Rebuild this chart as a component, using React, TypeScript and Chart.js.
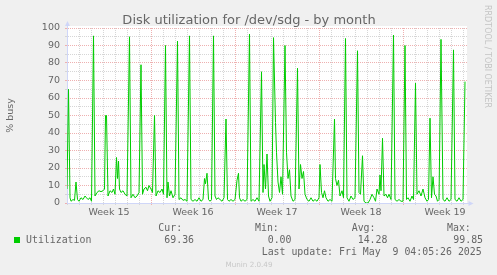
import React, { useEffect, useRef } from 'react';
import { Chart, registerables } from 'chart.js';

Chart.register(...registerables);

// ---- data (x in hours since the start of the graph window, 2h per pixel) ----
const hours = [
  0, 3, 6, 8, 12, 15, 18, 21, 24, 28, 32, 36,
  39, 42, 46, 49, 53, 56, 60, 64, 68, 72, 75, 77,
  79, 82, 86, 90, 93, 96, 99, 101, 103, 105, 108, 112,
  116, 120, 125, 128, 132, 136, 140, 144, 148, 151, 154, 158,
  161, 164, 168, 171, 175, 178, 182, 186, 190, 193, 197, 200,
  202, 205, 208, 212, 216, 221, 224, 228, 232, 236, 240, 245,
  248, 252, 256, 260, 264, 268, 272, 275, 277, 280, 283, 286,
  289, 293, 296, 299, 302, 306, 310, 314, 318, 321, 324, 328,
  332, 336, 340, 343, 345, 348, 352, 356, 360, 365, 368, 372,
  376, 380, 384, 389, 392, 394, 397, 400, 403, 406, 410, 413,
  417, 419, 422, 425, 428, 431, 436, 439, 442, 445, 448, 452,
  456, 461, 464, 467, 470, 473, 476, 480, 484, 488, 492, 496,
  500, 504, 506, 509, 512, 515, 518, 522, 526, 530, 535, 537,
  540, 543, 546, 550, 553, 557, 560, 564, 568, 572, 576, 581,
  584, 587, 591, 594, 598, 602, 606, 610, 614, 617, 620, 624,
  626, 628, 631, 634, 638, 641, 644, 648, 653, 656, 660, 664,
  668, 672, 676, 679, 682, 686, 690, 693, 697, 700, 704, 708,
  712, 716, 720, 723, 726, 729, 732, 735, 738, 741, 744, 748,
  752, 756, 760, 764, 768, 773, 776, 780, 784, 788, 792, 796,
];

const busy = [
  8, 65, 3, 1, 2, 1.5, 12, 2, 1, 3, 2, 4,
  3, 2, 3, 1, 95.5, 4, 6, 7, 6.5, 7, 8, 50,
  50, 4, 7, 6, 8, 5, 26, 14, 24, 8, 6, 7,
  5, 4, 95, 3, 5, 3, 4, 6, 79, 5, 8, 9,
  7, 10, 8, 6, 50, 4, 7, 6, 8, 5, 90, 3,
  12, 4, 7, 3, 5, 92.5, 2, 3, 1.5, 2, 1, 95.5,
  2, 1, 2, 1, 3, 1, 2, 14, 11, 17, 2, 1,
  2, 95.5, 4, 2, 3, 2, 1, 3, 48, 2, 1, 2,
  1, 2, 13, 17, 3, 1, 2, 1, 2, 96.5, 1, 2,
  1, 3, 1, 75, 6, 22, 8, 28, 4, 1, 3, 94.5,
  46, 29, 12, 6, 15, 5, 90, 29, 14, 19, 4, 1,
  2, 77, 8, 22, 14, 18, 5, 2, 1, 3, 1, 2,
  1, 3, 22, 6, 3, 7, 3, 1, 2, 1, 48, 14,
  10, 13, 4, 7, 3, 94, 3, 1, 4, 2, 3, 87,
  6, 5, 27, 1, 0, 0, 2, 5, 3, 1, 8, 5,
  16, 7, 37, 4, 5, 3, 5, 2, 96, 2, 1, 2,
  1, 1, 90, 2, 3, 1, 4, 2, 68.5, 5, 7, 4,
  8, 3, 1, 2, 48.5, 3, 15, 5, 4, 1, 2, 93.5,
  2, 1, 3, 1, 2, 87.5, 2, 1, 3, 1, 2, 69.36,
];

const weekLabels = ['Week 15', 'Week 16', 'Week 17', 'Week 18', 'Week 19'];
const hoursPerDay = 24;
const hoursPerWeek = 168;
const firstWeekLabelAt = 84;
const windowHours = 800;

const titleText = 'Disk utilization for /dev/sdg - by month';
const yAxisTitle = '% busy';
const seriesName = 'Utilization';
const legendHeaders = ['Cur:', 'Min:', 'Avg:', 'Max:'];
const legendValues = ['69.36', '0.00', '14.28', '99.85'];
const lastUpdate = 'Last update: Fri May  9 04:05:26 2025';
const watermark = 'Munin 2.0.49';
const credit = 'RRDTOOL / TOBI OETIKER';

// ---- styles ----
const FONT = '#666666';
const AXIS = '#CFD6F8';
const MAJOR = '#eeb0b0';
const MINOR = '#d6d6d6';
const NONE = 'rgba(0,0,0,0)';
const LINE = '#00cc00';

const decor = {
  id: 'decor',
  beforeDraw(chart: any) {
    const { ctx, chartArea: a } = chart;
    ctx.save();
    ctx.fillStyle = '#f0f0f0';
    ctx.fillRect(0, 0, chart.width, chart.height);
    ctx.fillStyle = '#ffffff';
    ctx.fillRect(a.left, a.top - 2, a.right - a.left, a.bottom - a.top + 2);
    ctx.restore();
  },
  afterDraw(chart: any) {
    const { ctx, chartArea: a } = chart;
    ctx.save();
    // axis arrows
    ctx.strokeStyle = AXIS;
    ctx.fillStyle = AXIS;
    ctx.lineWidth = 1;
    ctx.beginPath();
    ctx.moveTo(a.left + 0.5, a.top);
    ctx.lineTo(a.left + 0.5, a.top - 3);
    ctx.stroke();
    ctx.beginPath();
    ctx.moveTo(a.left - 2, a.top - 2);
    ctx.lineTo(a.left + 3, a.top - 2);
    ctx.lineTo(a.left + 0.5, a.top - 7);
    ctx.closePath();
    ctx.fill();
    ctx.beginPath();
    ctx.moveTo(a.right, a.bottom + 0.5);
    ctx.lineTo(a.right + 2, a.bottom + 0.5);
    ctx.stroke();
    ctx.beginPath();
    ctx.moveTo(a.right + 1.5, a.bottom - 2);
    ctx.lineTo(a.right + 1.5, a.bottom + 3);
    ctx.lineTo(a.right + 6.5, a.bottom + 0.5);
    ctx.closePath();
    ctx.fill();

    // title
    ctx.fillStyle = FONT;
    ctx.font = '13px "DejaVu Sans"';
    ctx.textAlign = 'center';
    ctx.textBaseline = 'alphabetic';
    ctx.fillText(titleText, 249, 24);

    // credit (rotated)
    ctx.save();
    ctx.translate(484.5, 5);
    ctx.rotate(Math.PI / 2);
    ctx.font = '8px "DejaVu Sans"';
    ctx.fillStyle = '#c4c4c4';
    ctx.textAlign = 'left';
    ctx.textBaseline = 'alphabetic';
    ctx.fillText(credit, 0, 0);
    ctx.restore();

    // legend
    ctx.fillStyle = LINE;
    ctx.fillRect(14, 237, 6, 6);
    ctx.fillStyle = FONT;
    ctx.font = '9.9px "DejaVu Sans Mono"';
    ctx.textAlign = 'left';
    ctx.textBaseline = 'alphabetic';
    ctx.fillText(seriesName, 26, 243);
    const headerX = [158.3, 255, 351.7, 447];
    const valueX = [164.3, 267.7, 357.7, 453.3];
    legendHeaders.forEach((h, i) => ctx.fillText(h, headerX[i], 231));
    legendValues.forEach((v, i) => ctx.fillText(v, valueX[i], 243));
    ctx.fillText(lastUpdate, 261.7, 255);

    // watermark
    ctx.font = '7.2px "DejaVu Sans"';
    ctx.fillStyle = '#c8c8c8';
    ctx.textAlign = 'center';
    ctx.fillText(watermark, 249, 266.5);
    ctx.restore();
  },
};

export default function App() {
  const ref = useRef<HTMLCanvasElement>(null);

  useEffect(() => {
    const canvas = ref.current;
    if (!canvas) return;
    const chart = new Chart(canvas, {
      type: 'line',
      data: {
        datasets: [
          {
            label: seriesName,
            data: hours.map((h, i) => ({ x: h, y: busy[i] })),
            borderColor: LINE,
            borderWidth: 1,
            pointRadius: 0,
            tension: 0,
            fill: false,
            borderJoinStyle: 'round',
          },
        ],
      },
      options: {
        animation: false,
        responsive: false,
        devicePixelRatio: 1,
        layout: { padding: { left: 0, right: 30, top: 28, bottom: 52 } },
        plugins: {
          legend: { display: false },
          tooltip: { enabled: false },
          title: { display: false },
        },
        scales: {
          x: {
            type: 'linear',
            min: 0,
            max: windowHours,
            afterBuildTicks: (scale: any) => {
              const t: { value: number }[] = [];
              for (let h = 0; h <= windowHours; h += hoursPerDay) t.push({ value: h });
              weekLabels.forEach((_, i) => t.push({ value: firstWeekLabelAt + hoursPerWeek * i }));
              t.sort((p, q) => p.value - q.value);
              scale.ticks = t;
            },
            afterFit: (scale: any) => {
              scale.height = 20;
            },
            ticks: {
              autoSkip: false,
              maxRotation: 0,
              minRotation: 0,
              padding: 2,
              color: FONT,
              font: { family: 'DejaVu Sans', size: 9.5 },
              callback: (v: any) => {
                const k = (Number(v) - firstWeekLabelAt) / hoursPerWeek;
                return Number.isInteger(k) && weekLabels[k] ? weekLabels[k] : '';
              },
            },
            grid: {
              lineWidth: 1,
              tickLength: 2,
              color: (c: any) => {
                const v = c.tick ? c.tick.value : 0;
                if (v % hoursPerDay !== 0) return NONE;
                return v % hoursPerWeek === 0 && v > 0 ? MAJOR : MINOR;
              },
              tickColor: (c: any) => {
                const v = c.tick ? c.tick.value : 0;
                if (v % hoursPerDay !== 0) return NONE;
                return v % hoursPerWeek === 0 && v > 0 ? MAJOR : MINOR;
              },
            },
            border: { color: AXIS, width: 1, dash: [1, 1] },
          },
          y: {
            min: 0,
            max: 100,
            afterFit: (scale: any) => {
              scale.width = 67;
            },
            ticks: {
              stepSize: 5,
              autoSkip: false,
              padding: 5,
              color: FONT,
              font: { family: 'DejaVu Sans', size: 9.5 },
              callback: (v: any) => (Number(v) % 10 === 0 ? String(v) : ''),
            },
            grid: {
              lineWidth: 1,
              tickLength: 2,
              color: (c: any) => (c.tick && c.tick.value % 10 === 0 ? MAJOR : MINOR),
              tickColor: (c: any) => (c.tick && c.tick.value % 10 === 0 ? MAJOR : MINOR),
            },
            border: { color: AXIS, width: 1, dash: [1, 1] },
            title: {
              display: true,
              text: yAxisTitle,
              color: FONT,
              font: { family: 'DejaVu Sans', size: 9.5 },
              padding: { top: 5, bottom: 0 },
            },
          },
        },
      },
      plugins: [decor],
    } as any);
    return () => chart.destroy();
  }, []);

  return (
    <div style={{ position: 'absolute', left: 0, top: 0, width: 497, height: 275, background: '#f0f0f0' }}>
      <canvas ref={ref} width={497} height={275} style={{ display: 'block', width: 497, height: 275 }} />
    </div>
  );
}
